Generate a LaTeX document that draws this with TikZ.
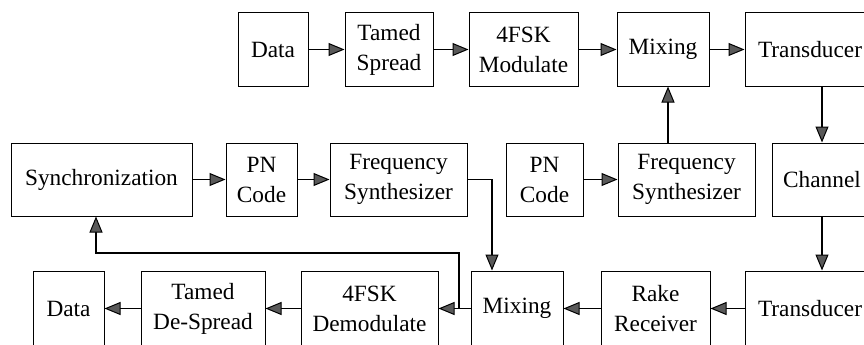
\documentclass[tikz,border=0pt]{standalone}
\usepackage{fontspec}
\setmainfont{Liberation Serif}
\newfontfamily\boxfont{Liberation Serif}
\usetikzlibrary{arrows.meta}
\begin{document}
\begin{tikzpicture}[x=1pt,y=-1pt,
  box/.style={draw=black, line width=1pt, inner sep=0pt, align=center,
    font=\boxfont\fontsize{23.3}{30}\selectfont},
  arr/.style={line width=1.7pt, -{Triangle[length=16pt,width=13pt,fill=black!65,line width=1pt]}}]
\useasboundingbox (0,0) rectangle (864,345);
\fill[white] (0,0) rectangle (864,345);
\clip (0,0) rectangle (864,345);
% top row
\node[box, minimum width=70pt, minimum height=73pt] (dataT) at (273,49.5) {Data};
\node[box, minimum width=88pt, minimum height=73pt] (tsp) at (389,49.5) {Tamed\\Spread};
\node[box, minimum width=109pt, minimum height=73pt] (fskm) at (523.5,49.5) {4FSK\\Modulate};
\node[box, minimum width=92pt, minimum height=73pt] (mixT) at (663,49.5) {Mixing};
\node[box, minimum width=130pt, minimum height=73pt] (trT) at (810,49.5) {Transducer};
% middle row
\node[box, minimum width=181pt, minimum height=73pt] (sync) at (101.5,179.5) {Synchronization};
\node[box, minimum width=71pt, minimum height=73pt] (pn1) at (261.5,179.5) {PN\\Code};
\node[box, minimum width=137pt, minimum height=73pt] (fs1) at (398.5,179.5) {Frequency\\Synthesizer};
\node[box, minimum width=77pt, minimum height=73pt] (pn2) at (544.5,179.5) {PN\\Code};
\node[box, minimum width=137pt, minimum height=73pt] (fs2) at (686.5,179.5) {Frequency\\Synthesizer};
\node[box, minimum width=100pt, minimum height=73pt] (chan) at (822,179.5) {Channel};
% bottom row
\node[box, minimum width=71pt, minimum height=75pt] (dataB) at (68.5,308.5) {Data};
\node[box, minimum width=124pt, minimum height=75pt] (tds) at (203,308.5) {Tamed\\De-Spread};
\node[box, minimum width=137pt, minimum height=75pt] (fskd) at (369.5,308.5) {4FSK\\Demodulate};
\node[box, minimum width=92pt, minimum height=75pt] (mixB) at (517,308.5) {Mixing};
\node[box, minimum width=109pt, minimum height=75pt] (rake) at (655.5,308.5) {Rake\\Receiver};
\node[box, minimum width=130pt, minimum height=75pt] (trB) at (810,308.5) {Transducer};
% helper coordinates
\coordinate (up) at (668,0);
\coordinate (drop) at (492,0);
\coordinate (fb) at (459,253);
\coordinate (fbx) at (96,253);
% top row connectors
\draw[arr] (dataT) -- (tsp);
\draw[arr] (tsp) -- (fskm);
\draw[arr] (fskm) -- (mixT);
\draw[arr] (mixT) -- (trT);
\draw[arr] (chan.north |- trT.south) -- (chan.north);
\draw[arr] (chan.south) -- (chan.south |- trB.north);
% middle connectors
\draw[arr] (sync) -- (pn1);
\draw[arr] (pn1) -- (fs1);
\draw[arr] (pn2) -- (fs2);
\draw[arr] (up |- fs2.north) -- (up |- mixT.south);
\draw[arr] (fs1.east) -| (drop |- mixB.north);
% bottom connectors
\draw[arr] (trB) -- (rake);
\draw[arr] (rake) -- (mixB);
\draw[arr] (mixB) -- (fskd);
\draw[arr] (fskd) -- (tds);
\draw[arr] (tds) -- (dataB);
\draw[arr] (fb |- fskd.east) -- (fb) -- (fbx) -- (fbx |- sync.south);
\end{tikzpicture}
\end{document}
